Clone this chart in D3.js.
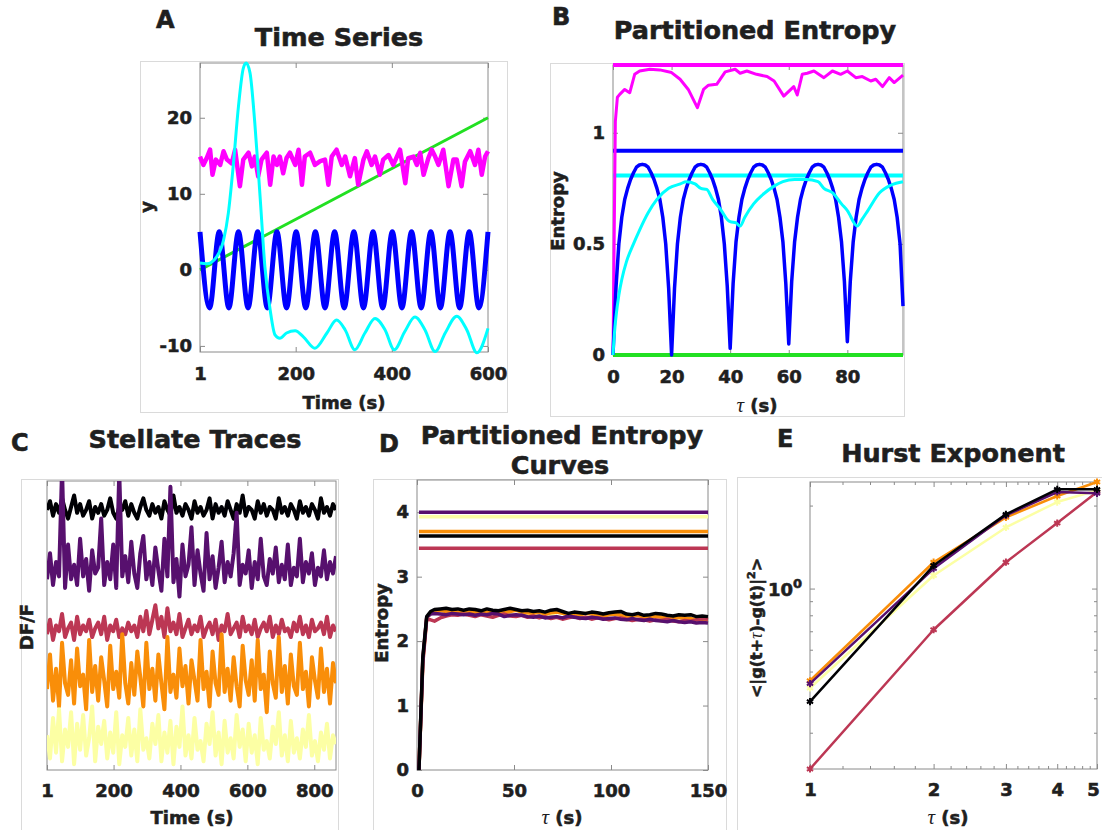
<!DOCTYPE html>
<html>
<head>
<meta charset="utf-8">
<script src="https://cdn.jsdelivr.net/npm/d3@7.9.0/dist/d3.min.js"></script>
<style>
  body { margin: 0; background: #fff; }
  text { font-family: "DejaVu Sans", sans-serif; font-weight: bold; fill: #1f1f1f;
         stroke: #1f1f1f; stroke-width: 0.6px; }
  .ax text { font-size: 18px; }
  .tau { font-family: "Liberation Serif", serif; font-style: italic; font-weight: normal; stroke-width: 0; }
</style>
</head>
<body>
<svg id="fig"></svg>
<script>
/* =====================================================
   FIGURE: time series / partitioned entropy / stellate
   traces / entropy curves / hurst exponent (5 panels)
   ===================================================== */

/* --- Panel A: time series --- */
const aGreenT = [1, 600];
const aGreenY = [0, 20];
const aBlueT = [1, 21, 41, 61, 81, 101, 121, 141, 161, 181, 201, 221, 241, 261, 281, 301,
  321, 341, 361, 381, 401, 421, 441, 461, 481, 501, 521, 541, 561, 581, 600];
const aBlueY = [5, -5, 5, -5, 5, -5, 5, -5, 5, -5, 5, -5, 5, -5, 5, -5,
  5, -5, 5, -5, 5, -5, 5, -5, 5, -5, 5, -5, 5, -5, 5];
const aMagenta = [[1,14.9],[8,13.8],[15,14.7],[22,15.8],[27,12.5],[34,14.5],[43,13.8],[50,15.6],
  [57,14.5],[67,14.0],[74,15.8],[84,11.0],[91,14.5],[102,15.4],[109,13.6],[115,14.9],[122,12.3],
  [129,14.5],[140,15.4],[147,11.2],[154,14.9],[161,13.8],[167,14.9],[174,12.7],[181,14.7],
  [188,15.4],[199,13.8],[206,15.8],[213,11.2],[219,14.9],[230,15.4],[240,13.8],[251,14.3],
  [261,14.5],[268,11.2],[275,14.9],[285,15.8],[296,13.8],[303,14.9],[313,12.3],[323,14.7],
  [330,11.2],[341,14.5],[348,15.6],[358,13.8],[365,14.9],[375,12.5],[382,14.5],[393,15.1],
  [403,13.8],[417,15.8],[428,11.4],[434,14.7],[445,14.9],[452,13.8],[459,15.4],[466,12.5],
  [476,14.7],[483,15.8],[490,14.9],[497,13.8],[507,15.8],[518,11.0],[528,14.5],[535,14.5],
  [545,11.0],[552,14.2],[563,15.6],[573,13.8],[580,15.8],[587,12.5],[594,14.9],[600,15.6]];
const aCyan = [[1,0.9],[15,0.8],[36,1.75],[50,3.9],[60,7.5],[70,13.6],[81,21.5],[91,26.5],
  [97,27.2],[105,25.9],[115,19.3],[126,9.6],[136,0.4],[147,-5.3],[157,-8.55],[167,-9.0],
  [181,-8.3],[199,-8.0],[216,-8.8],[240,-10.3],[265,-8.3],[285,-6.6],[303,-7.9],[323,-10.5],
  [344,-8.3],[365,-6.4],[386,-7.9],[405,-10.5],[427,-8.1],[448,-6.2],[469,-7.9],[490,-10.75],
  [511,-8.3],[535,-6.1],[556,-7.9],[577,-10.9],[600,-7.7]];

/* --- Panel B: partitioned entropy (tau = 0..99) --- */
const bBlue = [0, .3, .5, .62, .7, .75, .79, .82, .845, .855, .858, .855, .845, .82, .79, .75, .7, .62, .5, .3,
  0, .3, .5, .62, .7, .75, .79, .82, .845, .855, .858, .855, .845, .82, .79, .75, .7, .62, .5, .31,
  .03, .32, .51, .62, .7, .75, .79, .82, .845, .855, .858, .855, .845, .82, .79, .75, .7, .62, .51, .32,
  .05, .33, .51, .62, .7, .75, .79, .82, .845, .855, .858, .855, .845, .82, .79, .75, .7, .62, .51, .33,
  .06, .33, .51, .62, .7, .75, .79, .82, .845, .855, .858, .855, .845, .82, .79, .75, .7, .62, .5, .22];
const bMagenta = [[0,0],[0.8,1.05],[1.5,1.16],[2.3,1.173],[4,1.195],[5.7,1.18],[7.4,1.263],
  [9.1,1.278],[12.6,1.286],[16,1.283],[20,1.271],[22.9,1.241],[25.7,1.195],[28.8,1.113],
  [30.9,1.195],[32.6,1.214],[35.4,1.218],[38.3,1.274],[41.7,1.286],[43.4,1.268],[45.7,1.278],
  [49,1.263],[52.6,1.253],[55,1.233],[58.3,1.165],[61.7,1.208],[62.9,1.17],[64.6,1.263],
  [66.3,1.268],[68.6,1.278],[72,1.248],[74.9,1.278],[77.7,1.263],[80,1.278],[82.9,1.248],
  [85.1,1.253],[88,1.233],[89.7,1.241],[92,1.208],[94.3,1.248],[96,1.226],[99,1.259]];
const bCyan = [[0,0],[0.5,0.1],[1,0.17],[2,0.27],[3,0.34],[4.6,0.42],[7,0.5],[9,0.56],[12,0.64],
  [15,0.7],[19,0.75],[23,0.77],[25,0.78],[28,0.77],[30,0.75],[32,0.745],[34,0.7],[37,0.65],
  [39,0.61],[40,0.6],[42,0.595],[43.4,0.58],[45,0.62],[48,0.68],[51,0.72],[55,0.76],[58,0.78],
  [62,0.79],[66,0.79],[70,0.78],[72,0.75],[75,0.73],[78,0.68],[80,0.65],[83.4,0.58],[85,0.61],
  [87,0.65],[91,0.73],[95,0.765],[99,0.78]];
// flat reference levels (magenta, blue, cyan, green)
const bLevels = [1.305, 0.919, 0.808, 0];

/* --- Panels C-E: five stellate cells (inferno colours) --- */
const cellNames = ['black', 'purple', 'red', 'orange', 'yellow'];
const cellColors = ['#000004', '#57106e', '#bc3754', '#f98e09', '#fcffa4'];

/* --- Panel C: DF/F traces, sampled evenly over 1..865 s (arbitrary units) --- */
const cBlack = [90,93,88,92,89,94,90,87,91,95,89,92,88,90,93,87,91,89,92,88,90,94,89,87,91,90,93,88,
  92,89,87,91,94,90,88,92,89,91,87,93,90,88,95,89,91,88,92,90,87,93,89,91,88,90,94,87,92,89,91,88,93,
  90,87,92,89,95,88,91,90,87,93,89,92,88,91,90,87,94,89,91,88,92,90,87,93,89,91,88,92,90,87,94,89,91,
  88,92,90];
const cPurple = [66,75,64,72,67,104,63,78,66,71,64,80,67,73,62,76,68,70,87,64,72,66,78,63,103,67,74,
  65,79,68,63,75,81,66,72,64,77,69,62,80,67,98,65,73,60,78,67,71,84,64,76,68,62,82,66,74,63,70,79,65,
  72,67,75,89,64,71,68,76,63,72,66,80,67,64,73,68,77,65,71,66,78,64,70,67,80,65,72,68,75,64,70,67,76,
  66,72,68,74];
const cRed = [47,52,45,50,48,54,46,49,51,45,53,47,50,48,52,46,49,51,47,53,45,50,48,52,46,49,47,51,48,
  50,46,53,48,55,47,52,57,49,53,46,56,48,51,47,54,46,49,52,47,50,48,53,46,49,51,47,52,45,50,48,54,47,
  49,51,46,53,48,50,47,52,46,49,51,48,53,46,50,47,52,48,49,46,51,48,53,47,50,46,52,48,49,51,47,53,46,
  50,48];
const cOrange = [28,40,24,35,22,44,30,26,38,23,42,29,33,21,45,27,36,24,39,31,22,43,28,34,25,47,30,23,
  37,26,41,32,22,44,28,35,24,40,30,21,46,27,33,25,42,29,36,23,38,31,24,45,28,34,22,41,30,26,47,27,35,
  24,39,29,22,43,31,26,38,24,45,28,33,20,41,30,25,46,27,36,23,40,29,26,44,28,34,22,39,31,25,42,27,35,
  23,37,30];
const cYellow = [12,4,18,6,21,3,14,8,20,2,16,7,19,5,11,22,3,15,9,17,4,13,6,20,2,12,8,18,5,14,3,21,7,11,
  4,16,9,19,3,13,6,17,2,15,8,22,5,12,4,18,7,10,3,16,9,20,5,13,2,17,6,11,4,19,8,14,3,16,6,12,2,18,7,10,
  4,15,9,20,5,12,3,17,6,11,4,14,8,19,5,10,3,13,7,16,4,12,9];
const cTraces = [cBlack, cPurple, cRed, cOrange, cYellow];

/* --- Panel D: partitioned entropy curves --- */
const dTau = [1,3,5,7,9,12,15,18,21,24,27,30,33,36,39,42,45,48,51,54,57,60,63,66,69,72,75,78,81,84,
  87,90,93,96,99,102,105,108,111,114,117,120,123,126,129,132,135,138,141,144,147,150];
const dBlack = [0,1.75,2.38,2.46,2.49,2.5,2.51,2.49,2.5,2.48,2.5,2.49,2.47,2.5,2.48,2.47,2.49,2.51,
  2.49,2.47,2.48,2.46,2.47,2.45,2.48,2.49,2.46,2.43,2.45,2.44,2.43,2.45,2.44,2.42,2.44,2.45,2.46,2.42,
  2.41,2.43,2.4,2.41,2.43,2.42,2.4,2.39,2.41,2.4,2.41,2.38,2.39,2.38];
const dPurple = [0,1.72,2.37,2.42,2.43,2.42,2.41,2.43,2.42,2.41,2.42,2.4,2.42,2.41,2.43,2.42,2.38,2.4,
  2.41,2.4,2.38,2.37,2.39,2.36,2.37,2.38,2.36,2.39,2.37,2.36,2.35,2.37,2.36,2.34,2.35,2.36,2.34,2.33,
  2.35,2.33,2.32,2.34,2.32,2.31,2.3,2.32,2.3,2.29,2.3,2.28,2.29,2.28];
const dRed = [0,1.65,2.34,2.33,2.31,2.36,2.39,2.41,2.4,2.42,2.4,2.38,2.41,2.39,2.37,2.4,2.42,2.39,
  2.38,2.4,2.37,2.39,2.36,2.38,2.35,2.37,2.34,2.36,2.38,2.35,2.37,2.34,2.36,2.35,2.33,2.35,2.36,2.34,
  2.32,2.34,2.33,2.31,2.33,2.32,2.34,2.31,2.3,2.32,2.31,2.33,2.35,2.34];
const dOrange = [0,1.7,2.36,2.44,2.47,2.48,2.46,2.47,2.45,2.47,2.46,2.44,2.46,2.45,2.47,2.45,2.44,
  2.46,2.48,2.45,2.44,2.43,2.45,2.42,2.44,2.45,2.43,2.41,2.42,2.41,2.43,2.42,2.4,2.39,2.41,2.42,2.4,
  2.38,2.39,2.4,2.37,2.38,2.39,2.37,2.36,2.35,2.37,2.36,2.35,2.33,2.34,2.33];
const dYellow = [0,1.68,2.35,2.43,2.45,2.44,2.43,2.45,2.42,2.44,2.43,2.41,2.44,2.42,2.4,2.42,2.43,
  2.41,2.39,2.42,2.4,2.38,2.4,2.39,2.41,2.38,2.36,2.38,2.37,2.39,2.36,2.35,2.37,2.36,2.34,2.36,2.35,
  2.33,2.35,2.34,2.32,2.34,2.33,2.31,2.33,2.32,2.31,2.33,2.31,2.3,2.31,2.3];
const dCurves = [dBlack, dPurple, dRed, dOrange, dYellow];
const dLevels = [3.63, 4.0, 3.44, 3.70, 3.93];   // same cell order

/* --- Panel E: hurst exponent (tau = 1..5 s) --- */
const eTau = [1, 2, 3, 4, 5];
const eBlack = [0.389, 1.212, 1.858, 2.29, 2.29];
const ePurple = [0.452, 1.182, 1.843, 2.24, 2.215];
const eRed = [0.2216, 0.709, 1.246, 1.728, 2.24];
const eOrange = [0.463, 1.246, 1.812, 2.166, 2.435];
const eYellow = [0.436, 1.115, 1.666, 2.06, 2.272];
const eCurves = [eBlack, ePurple, eRed, eOrange, eYellow];


/* --- SVG --- */
const svg = d3.select('#fig').attr('width', 1102).attr('height', 830);
const GRID = '#8a8a8a';

/* --- helpers --- */
function frame(x0, y0, x1, y1) {
  svg.append('rect').attr('x', x0 + 0.5).attr('y', y0 + 0.5)
    .attr('width', x1 - x0).attr('height', y1 - y0)
    .attr('fill', 'none').attr('stroke', '#dadada');
}

function label(x, y, str, size, anchor = 'middle') {
  return svg.append('text').attr('x', x).attr('y', y)
    .attr('font-size', size).attr('text-anchor', anchor).text(str);
}

// "tau (s)" style label
function tauLabel(x, y) {
  const t = svg.append('text').attr('x', x).attr('y', y)
    .attr('font-size', 18).attr('text-anchor', 'middle');
  t.append('tspan').attr('class', 'tau').attr('font-size', 21).text('τ');
  t.append('tspan').text(' (s)');
}

function yLabel(x, y, str) {
  svg.append('text').attr('transform', `translate(${x},${y}) rotate(-90)`)
    .attr('font-size', 18).attr('text-anchor', 'middle').text(str);
}

// box axes with inward ticks on all four sides
function axes(x, y, o) {
  const g = svg.append('g');
  const [xa, xb] = x.range(), [yb, ya] = y.range();
  const tk = o.tick || 5;
  g.append('g').attr('class', 'ax').attr('transform', `translate(0,${yb})`)
    .call(d3.axisBottom(x).tickValues(o.xTicks).tickSize(-tk).tickPadding(o.padX || 14)
      .tickFormat(o.xFmt || (d => d)));
  g.append('g').attr('class', 'ax').attr('transform', `translate(0,${ya})`)
    .call(d3.axisTop(x).tickValues(o.xTicks).tickSize(-tk).tickFormat(''));
  if (o.yTicks) {
    g.append('g').attr('class', 'ax').attr('transform', `translate(${xa},0)`)
      .call(d3.axisLeft(y).tickValues(o.yTicks).tickSize(-tk).tickPadding(8)
        .tickFormat(o.yFmt || (d => d)));
    g.append('g').attr('class', 'ax').attr('transform', `translate(${xb},0)`)
      .call(d3.axisRight(y).tickValues(o.yTicks).tickSize(-tk).tickFormat(''));
  }
  g.selectAll('.domain').remove();
  g.selectAll('.tick line').attr('stroke', GRID);
  g.append('rect').attr('x', xa).attr('y', ya).attr('width', xb - xa).attr('height', yb - ya)
    .attr('fill', 'none').attr('stroke', GRID);
  return g;
}

function addLine(pts, x, y, color, w, curve) {
  return svg.append('path').datum(pts)
    .attr('fill', 'none').attr('stroke', color).attr('stroke-width', w)
    .attr('stroke-linejoin', 'round')
    .attr('d', d3.line().x(d => x(d[0])).y(d => y(d[1])).curve(curve || d3.curveLinear));
}


/* =====================  A  ===================== */
frame(140, 61, 507, 412);
const xA = d3.scaleLinear().domain([1, 600]).range([200, 488]);
const yA = d3.scaleLinear().domain([-10.8, 27.2]).range([352, 63]);
axes(xA, yA, { xTicks: [1, 200, 400, 600], yTicks: [-10, 0, 10, 20], padX: 15 });

addLine(d3.zip(aGreenT, aGreenY), xA, yA, '#22e022', 3);
addLine(aMagenta, xA, yA, '#ff00ff', 4.5);
addLine(d3.zip(aBlueT, aBlueY), xA, yA, '#0000ff', 5, d3.curveMonotoneX);
addLine(aCyan, xA, yA, '#00ffff', 3, d3.curveMonotoneX);

label(156, 28, 'A', 24, 'start');
label(339, 46, 'Time Series', 25.5);
label(344, 409, 'Time (s)', 18);
yLabel(153, 207, 'y');


/* =====================  B  ===================== */
frame(550, 63, 904, 416);
const xB = d3.scaleLinear().domain([0, 99]).range([613, 903]);
const yB = d3.scaleLinear().domain([0, 1.305]).range([355, 65]);
axes(xB, yB, { xTicks: [0, 20, 40, 60, 80], yTicks: [0, 0.5, 1], padX: 15 });

const bLevelColors = ['#ff00ff', '#0000ff', '#00ffff', '#22e022'];
bLevels.forEach((v, i) => addLine([[0, v], [99, v]], xB, yB, bLevelColors[i], 4));
addLine(bMagenta, xB, yB, '#ff00ff', 3);
addLine(bBlue.map((v, i) => [i, v]), xB, yB, '#0000ff', 3.5);
addLine(bCyan, xB, yB, '#00ffff', 3, d3.curveMonotoneX);

label(552, 25, 'B', 24, 'start');
label(755, 39, 'Partitioned Entropy', 25.5);
tauLabel(757, 412);
yLabel(564, 211, 'Entropy');


/* =====================  C  ===================== */
frame(21, 479, 338, 840);
const xC = d3.scaleLinear().domain([1, 865]).range([47, 336]);
const yC = d3.scaleLinear().domain([0, 100]).range([770, 481]);
axes(xC, yC, { xTicks: [1, 200, 400, 600, 800] });

svg.append('clipPath').attr('id', 'clipC').append('rect')
  .attr('x', 47).attr('y', 481).attr('width', 289).attr('height', 289);
const gC = svg.append('g').attr('clip-path', 'url(#clipC)');
cTraces.forEach((vals, k) => {
  // sample index -> recording time
  const tOf = d3.scaleLinear().domain([0, vals.length - 1]).range([1, 865]);
  gC.append('path').datum(vals)
    .attr('fill', 'none').attr('stroke', cellColors[k]).attr('stroke-width', 4)
    .attr('stroke-linejoin', 'round')
    .attr('d', d3.line().x((d, i) => xC(tOf(i))).y(d => yC(d)));
});

label(11, 451, 'C', 24, 'start');
label(195, 448, 'Stellate Traces', 25.5);
label(192, 824, 'Time (s)', 18);
yLabel(33, 627, 'DF/F');


/* =====================  D  ===================== */
frame(373, 479, 726, 840);
const xD = d3.scaleLinear().domain([0, 150]).range([417, 708]);
const yD = d3.scaleLinear().domain([0, 4.5]).range([770, 480]);
axes(xD, yD, { xTicks: [0, 50, 100, 150], yTicks: [0, 1, 2, 3, 4] });

[4, 3, 2, 1, 0].forEach(k => addLine([[1, dLevels[k]], [150, dLevels[k]]], xD, yD, cellColors[k], 3.5));
[4, 3, 2, 1, 0].forEach(k => addLine(d3.zip(dTau, dCurves[k]), xD, yD, cellColors[k], 3.5));

label(379, 452, 'D', 24, 'start');
label(562, 444, 'Partitioned Entropy', 25.5);
label(560, 474, 'Curves', 25.5);
tauLabel(562, 824);
yLabel(388, 623, 'Entropy');


/* =====================  E  ===================== */
frame(737, 477, 1110, 840);
const xE = d3.scaleLog().domain([1, 5]).range([810, 1097]);
const yE = d3.scaleLog().domain([0.2216, 2.435]).range([769, 482]);
const axE = axes(xE, yE, { xTicks: [1, 2, 3, 4, 5], yTicks: [1], yFmt: () => '' });
// keep the last tick label inside the page
axE.selectAll('.tick text').filter(d => d === 5).attr('dx', -4);

// minor log ticks
const eMinorX = [1.2, 1.4, 1.6, 1.8, 2.2, 2.4, 2.6, 2.8, 3.2, 3.4, 3.6, 3.8, 4.2, 4.4, 4.6, 4.8];
const eMinorY = [0.3, 0.4, 0.5, 0.6, 0.7, 0.8, 0.9, 2];
const gm = svg.append('g');
gm.append('g').attr('transform', 'translate(0,769)').call(d3.axisBottom(xE).tickValues(eMinorX).tickSize(-3).tickFormat(''));
gm.append('g').attr('transform', 'translate(0,482)').call(d3.axisTop(xE).tickValues(eMinorX).tickSize(-3).tickFormat(''));
gm.append('g').attr('transform', 'translate(810,0)').call(d3.axisLeft(yE).tickValues(eMinorY).tickSize(-3).tickFormat(''));
gm.append('g').attr('transform', 'translate(1097,0)').call(d3.axisRight(yE).tickValues(eMinorY).tickSize(-3).tickFormat(''));
gm.selectAll('.domain').remove();
gm.selectAll('.tick line').attr('stroke', GRID);

const e10 = svg.append('text').attr('x', 802).attr('y', yE(1) + 7)
  .attr('font-size', 18).attr('text-anchor', 'end');
e10.append('tspan').text('10');
e10.append('tspan').attr('font-size', 13).attr('dy', -8).text('0');

const star = d3.symbol(d3.symbolAsterisk, 36);
[4, 2, 3, 1, 0].forEach(k => {
  addLine(d3.zip(eTau, eCurves[k]), xE, yE, cellColors[k], 2.5);
  svg.append('g').selectAll('path').data(d3.zip(eTau, eCurves[k])).join('path')
    .attr('transform', d => `translate(${xE(d[0])},${yE(d[1])})`)
    .attr('d', star).attr('fill', 'none').attr('stroke', cellColors[k]).attr('stroke-width', 2);
});

label(777, 447, 'E', 24, 'start');
label(953, 462, 'Hurst Exponent', 25.5);
tauLabel(948, 824);

const eY = svg.append('text').attr('transform', 'translate(762,628) rotate(-90)')
  .attr('font-size', 16).attr('text-anchor', 'middle');
eY.append('tspan').text('<|g(t+');
eY.append('tspan').attr('class', 'tau').attr('font-size', 18).text('τ');
eY.append('tspan').text(')-g(t)|');
eY.append('tspan').attr('font-size', 11).attr('dy', -7).text('2');
eY.append('tspan').attr('dy', 7).text('>');
</script>
</body>
</html>
